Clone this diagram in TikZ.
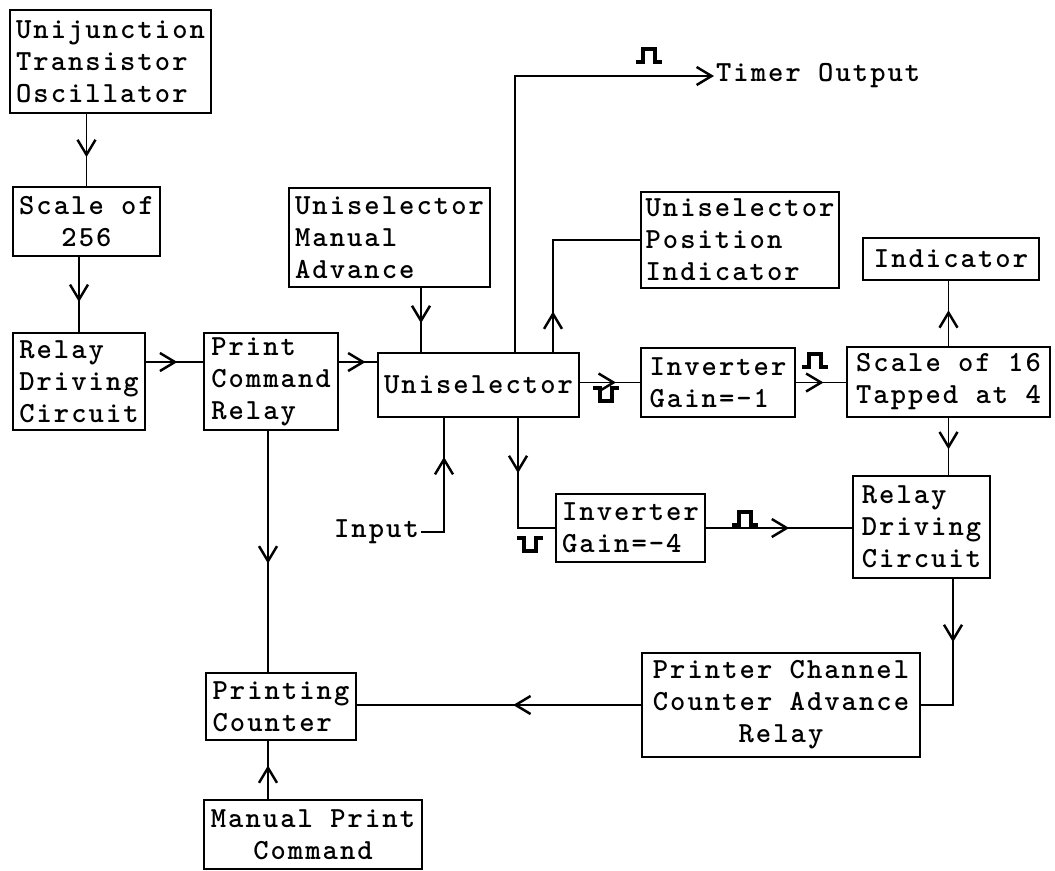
\documentclass[tikz,border=0pt]{standalone}
\usepackage{fontspec}
\newfontfamily\typew{lmmonolt10-bold.otf}[LetterSpace=7]
\usetikzlibrary{arrows.meta,calc}

\begin{document}
\begin{tikzpicture}[x=0.02cm,y=-0.02cm,
  box/.style={draw,line width=1.5pt,inner sep=2pt,align=left,font=\typew\fontsize{16.6}{18.2}\selectfont},
  lbl/.style={inner sep=1pt,font=\typew\fontsize{16.6}{18.2}\selectfont},
  wire/.style={draw,line width=1.1pt},
  tip/.pic={\draw[line width=1.4pt,-{Straight Barb[length=3mm,width=3.6mm]}] (-4,0) -- (0,0);},
  pos pulse/.pic={\draw[line width=2pt] (-13,0) -- (-6,0) -- (-6,-13) -- (6,-13) -- (6,0) -- (13,0);},
  neg pulse/.pic={\draw[line width=2pt] (-13,0) -- (-6,0) -- (-6,13) -- (6,13) -- (6,0) -- (13,0);}]
\useasboundingbox (0,0) rectangle (1055,870);

\node[box, minimum width=4.02cm, minimum height=2.06cm] (osc) at (110.5,61.5) {Unijunction\\Transistor\\Oscillator};
\node[box, align=center, minimum width=2.94cm, minimum height=1.38cm] (sc256) at (86.5,221.5) {Scale of\\256};
\node[box, minimum width=2.64cm, minimum height=1.94cm] (relL) at (79,381.5) {Relay\\Driving\\Circuit};
\node[box, minimum width=2.68cm, minimum height=1.94cm] (pcr) at (271,381.5) {Print\\Command\\Relay};
\node[box, minimum width=4.02cm, minimum height=1.98cm] (uma) at (389.5,237.5) {Uniselector\\Manual\\Advance};
\node[box, minimum width=4.02cm, minimum height=1.28cm] (uni) at (478.5,385) {Uniselector};
\node[box, minimum width=3.96cm, minimum height=1.92cm] (upi) at (740,240) {Uniselector\\Position\\Indicator};
\node[box, minimum width=3.52cm, minimum height=0.84cm] (ind) at (951,259) {Indicator};
\node[box, minimum width=3.08cm, minimum height=1.38cm] (inv1) at (718,382.5) {Inverter\\Gain=-1};
\node[box, minimum width=4.06cm, minimum height=1.40cm] (sc16) at (948.5,382) {Scale of 16\\Tapped at 4};
\node[box, minimum width=2.98cm, minimum height=1.36cm] (inv2) at (630.5,528) {Inverter\\Gain=-4};
\node[box, minimum width=2.74cm, minimum height=2.04cm] (relR) at (921.5,527) {Relay\\Driving\\Circuit};
\node[box, align=center, minimum width=5.56cm, minimum height=2.08cm] (pcc) at (781,705) {Printer Channel\\Counter Advance\\Relay};
\node[box, minimum width=3.00cm, minimum height=1.34cm] (ptc) at (281,706.5) {Printing\\Counter};
\node[box, align=center, minimum width=4.36cm, minimum height=1.38cm] (mpc) at (313,834.5) {Manual Print\\Command};
\node[lbl, anchor=west] (tout) at (714,76) {Timer Output};
\node[lbl, anchor=east] (inp) at (421,532) {Input};

\coordinate (hy) at (0,362);
\coordinate (ux1) at (421,0);
\coordinate (ux2) at (515,0);
\coordinate (ux3) at (553,0);
\coordinate (ux4) at (444,0);
\coordinate (ux5) at (518,0);
\coordinate (rx) at (953,0);
\coordinate (px) at (268,0);

\path[wire] (sc256.north |- osc.south) -- pic[pos=0.6,sloped,allow upside down]{tip} (sc256.north);
\path[wire] (relL.north |- sc256.south) -- pic[pos=0.6,sloped,allow upside down]{tip} (relL.north);
\path[wire] (relL.east |- hy) -- pic[pos=0.55,sloped,allow upside down]{tip} (pcr.west |- hy);
\path[wire] (pcr.east |- hy) -- pic[pos=0.7,sloped,allow upside down]{tip} (uni.west |- hy);
\path[wire] (ux1 |- uma.south) -- pic[pos=0.55,sloped,allow upside down]{tip} (ux1 |- uni.north);
\path[wire,-{Straight Barb[length=3mm,width=3.6mm,line width=1.4pt]}] (ux2 |- uni.north) |- (tout.west);
\path[wire] (ux3 |- uni.north) |- pic[pos=0.18,sloped,allow upside down]{tip} (upi.west);
\path[wire] (uni.east |- inv1.west) -- pic[pos=0.6,sloped,allow upside down]{tip} (inv1.west);
\path[wire] (inv1.east) -- pic[pos=0.55,sloped,allow upside down]{tip} (inv1.east -| sc16.west);
\path[wire] (sc16.north) -- pic[pos=0.55,sloped,allow upside down]{tip} (sc16.north |- ind.south);
\path[wire] (sc16.south) -- pic[pos=0.55,sloped,allow upside down]{tip} (sc16.south |- relR.north);
\path[wire] (inp.east) -| pic[pos=0.83,sloped,allow upside down]{tip} (ux4 |- uni.south);
\path[wire] (ux5 |- uni.south) |- pic[pos=0.25,sloped,allow upside down]{tip} (inv2.west);
\path[wire] (inv2.east) -- pic[pos=0.57,sloped,allow upside down]{tip} (inv2.east -| relR.west);
\path[wire] (rx |- relR.south) |- pic[pos=0.25,sloped,allow upside down]{tip} (pcc.east);
\path[wire] (pcc.west) -- pic[pos=0.45,sloped,allow upside down]{tip} (pcc.west -| ptc.east);
\path[wire] (px |- pcr.south) -- pic[pos=0.55,sloped,allow upside down]{tip} (px |- ptc.north);
\path[wire] (px |- mpc.north) -- pic[pos=0.58,sloped,allow upside down]{tip} (px |- ptc.south);

\pic at (649,62) {pos pulse};
\pic at (606,388) {neg pulse};
\pic at (815,367) {pos pulse};
\pic at (530,538) {neg pulse};
\pic at (745,525) {pos pulse};
\end{tikzpicture}
\end{document}
